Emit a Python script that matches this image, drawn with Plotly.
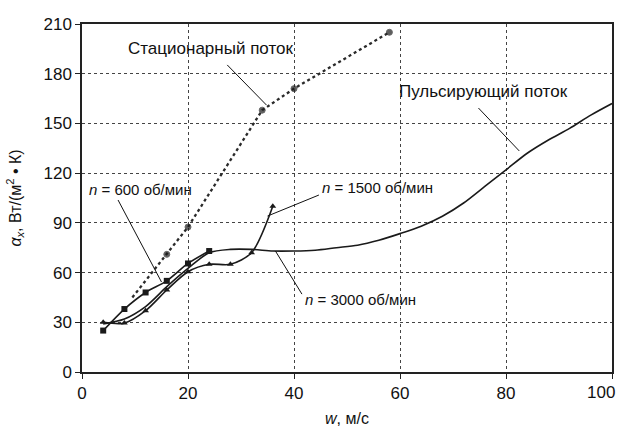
import plotly.graph_objects as go

# Stationary flow
st_x = [9.5, 16, 20, 34, 40, 58]
st_y = [45, 71, 87.5, 158, 171, 205]
st_marker = [0, 6, 6, 6, 6, 6]

# n = 600 rpm (squares)
n600_x = [4, 8, 12, 16, 20, 24]
n600_y = [25, 38, 48, 55, 65.5, 73]

# n = 1500 rpm (triangles)
n1500_x = [4, 8, 12, 16, 20, 24, 28, 32, 36]
n1500_y = [30, 29.5, 37, 49.5, 60.5, 65, 65, 72, 100]

# n = 3000 rpm / pulsating flow
n3000_x = [4, 8, 12, 16, 20, 24, 28, 32, 36, 40, 44, 48, 52, 56, 60, 64, 68, 72, 76, 80, 84, 88, 92, 96, 100]
n3000_y = [29, 32, 39.5, 51.5, 62.5, 72, 74, 74, 73, 73, 73.5, 75, 76.5, 79.5, 83.5, 88, 94, 102, 112, 122, 132, 140, 147, 155, 162]

x_ticks = [0, 20, 40, 60, 80, 100]
x_tick_labels = ["0", "20", "40", "60", "80", "100"]
y_ticks = [0, 30, 60, 90, 120, 150, 180, 210]

FONT = "Liberation Sans, Arial, sans-serif"

fig = go.Figure()
fig.add_trace(go.Scatter(x=n3000_x, y=n3000_y, mode="lines",
                         line=dict(color="#1a1a1a", width=1.6, shape="spline", smoothing=0.8),
                         showlegend=False, hoverinfo="skip"))
fig.add_trace(go.Scatter(x=n1500_x, y=n1500_y, mode="lines+markers",
                         line=dict(color="#1a1a1a", width=1.6, shape="spline", smoothing=0.8),
                         marker=dict(symbol="triangle-up", size=6, color="#1a1a1a"),
                         showlegend=False))
fig.add_trace(go.Scatter(x=n600_x, y=n600_y, mode="lines+markers",
                         line=dict(color="#1a1a1a", width=1.6, shape="spline", smoothing=0.8),
                         marker=dict(symbol="square", size=6, color="#1a1a1a"),
                         showlegend=False))
fig.add_trace(go.Scatter(x=st_x, y=st_y, mode="lines+markers",
                         line=dict(color="#2a2a2a", width=2.3, dash="dot"),
                         marker=dict(symbol="circle", size=st_marker, color="#1a1a1a"),
                         showlegend=False))

labels = [
    ("Стационарный поток", 24.2, 195, 17, (27.4, 185.3, 34.8, 161.1)),
    ("Пульсирующий поток", 75.8, 169, 17, (74.8, 159.3, 82.5, 133.4)),
    ("<i>n</i> = 600 об/мин", 11.1, 110, 15, (6.8, 103.8, 15, 54.3)),
    ("<i>n</i> = 1500 об/мин", 55.8, 111.6, 15, (44.7, 106.8, 35, 94.1)),
    ("<i>n</i> = 3000 об/мин", 52.6, 43.5, 15, (41.5, 47, 36.5, 73)),
]
for text, tx, ty, fs, (x0, y0, x1, y1) in labels:
    fig.add_annotation(x=tx, y=ty, text=text, showarrow=False,
                       font=dict(family=FONT, size=fs, color="#111"))
    fig.add_shape(type="line", x0=x0, y0=y0, x1=x1, y1=y1,
                  line=dict(color="#111", width=1))

axis_common = dict(showline=True, linecolor="#222", linewidth=1.5, mirror=True,
                   ticks="outside", ticklen=5, tickcolor="#222",
                   showgrid=True, gridcolor="#444", gridwidth=1.3, griddash="dot",
                   zeroline=False,
                   tickfont=dict(family=FONT, size=17, color="#111"))

# last x tick label would spill past the window edge: draw it right-aligned to the edge instead
shown_x_labels = x_tick_labels[:-1] + [""]
fig.add_annotation(x=1, y=0, xref="paper", yref="paper", xanchor="right", yanchor="top",
                   xshift=5, yshift=-9, text=x_tick_labels[-1], showarrow=False,
                   font=dict(family=FONT, size=17, color="#111"))

fig.update_xaxes(range=[0, 100], tickvals=x_ticks, ticktext=shown_x_labels, **axis_common,
                 title=dict(text="<i>w</i>, м/с", font=dict(family=FONT, size=16, color="#111"), standoff=11))
fig.update_yaxes(range=[0, 210], tickvals=y_ticks, **axis_common,
                 title=dict(text="<i>α<sub>x</sub></i>, Вт/(м<sup>2</sup> • К)",
                            font=dict(family=FONT, size=16, color="#111"), standoff=18))

fig.update_layout(width=617, height=433, margin=dict(l=82, r=5, t=24, b=61, autoexpand=False),
                  plot_bgcolor="white", paper_bgcolor="white")

# remove the default page margin so the figure fills the window exactly
fig.write_html("out.html", config={"displayModeBar": False},
               post_script="document.body.style.margin='0';document.body.style.overflow='hidden';")
